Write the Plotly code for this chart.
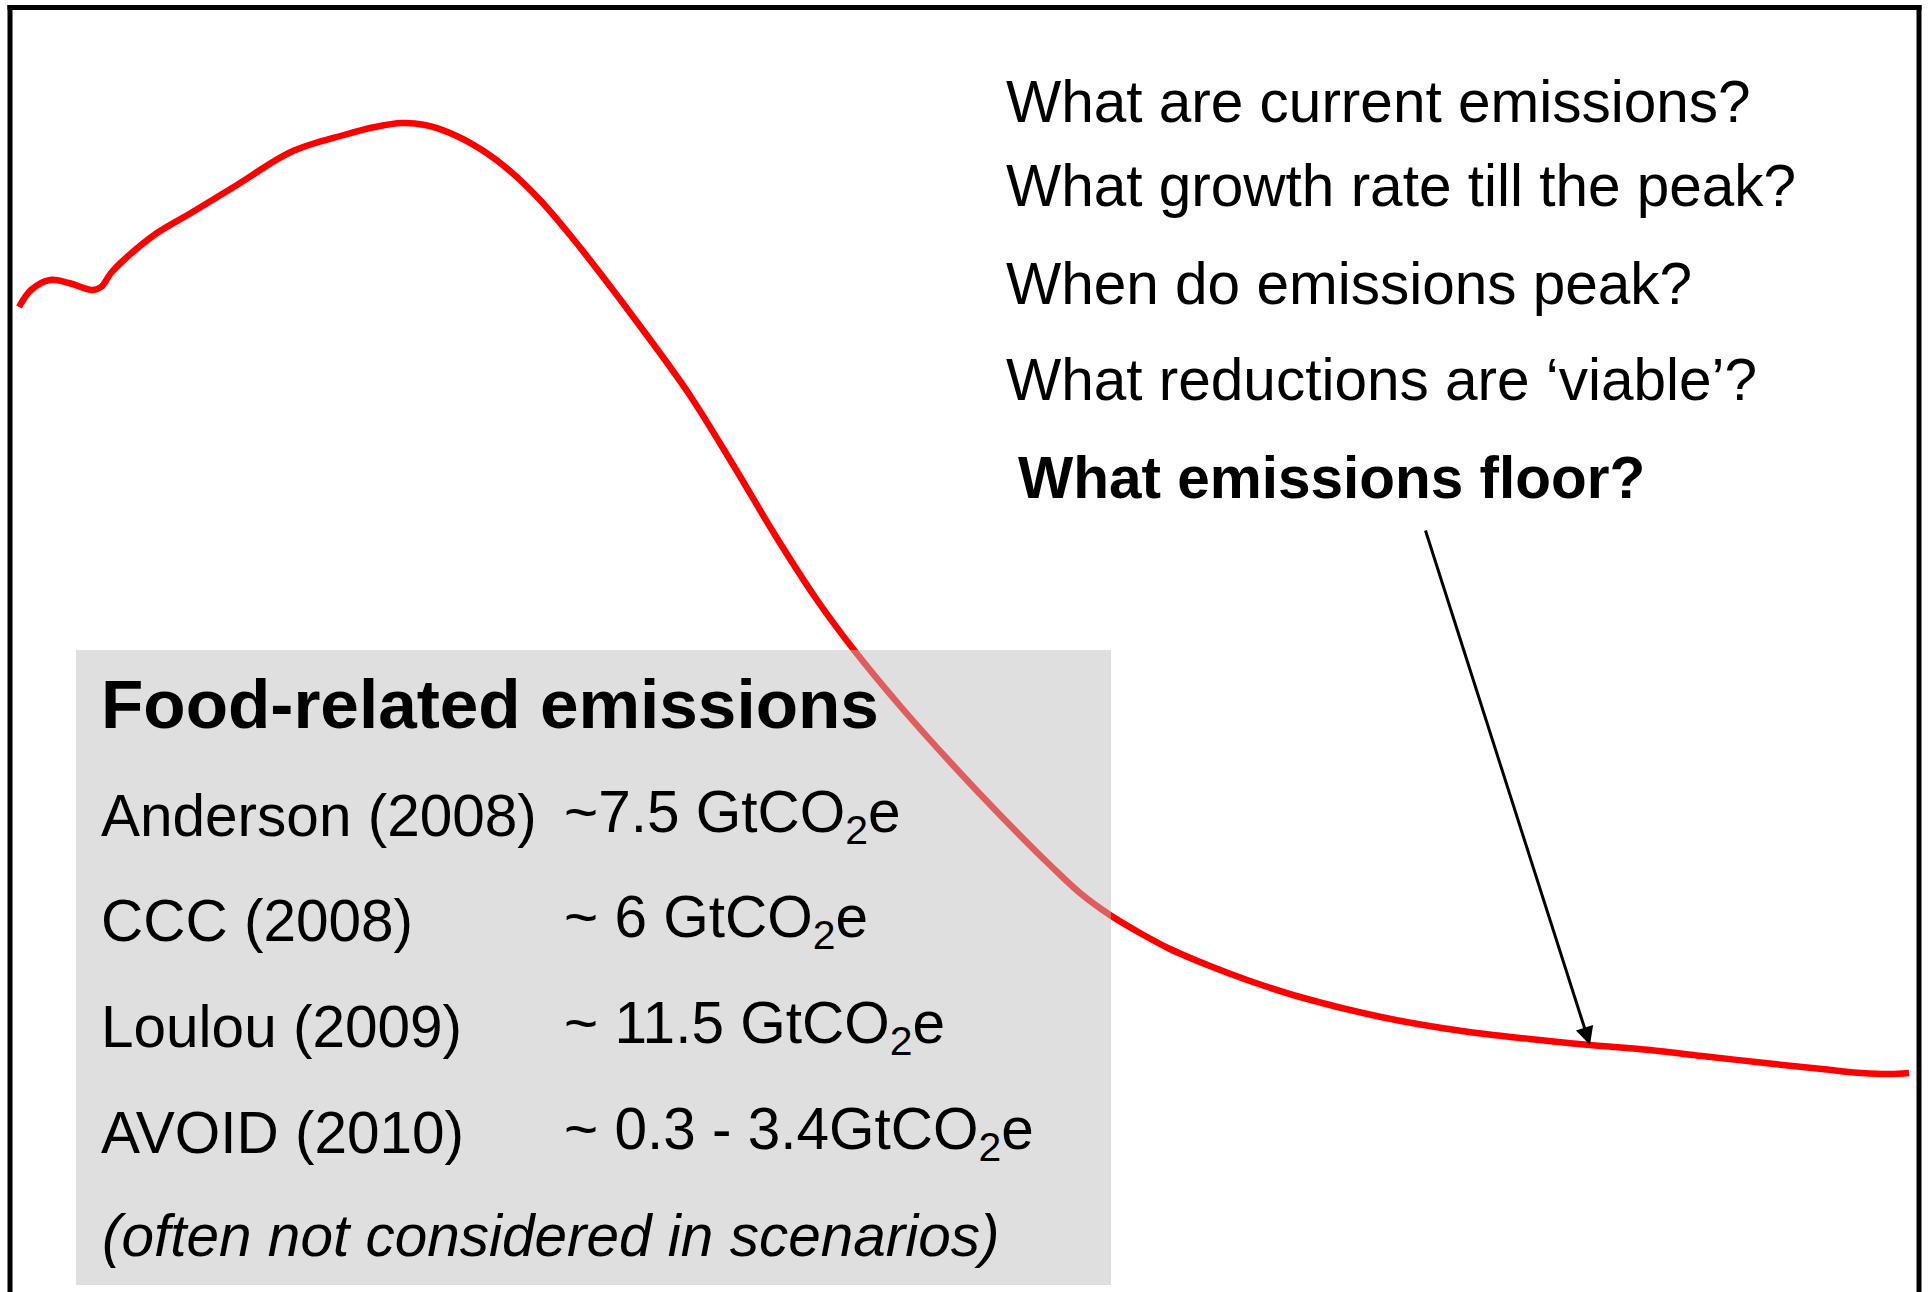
import plotly.graph_objects as go

# Emissions pathway sketch (canvas units, y grows downward)
path_x = [19, 31, 50, 69, 92, 101, 111, 126, 157, 191, 237, 291, 344, 375, 402, 425,
          450, 482, 510, 540, 570, 600, 640, 689, 735, 775, 817, 854, 901, 951, 1002,
          1052, 1080, 1110, 1140, 1170, 1210, 1250, 1300, 1381, 1462, 1530, 1590, 1650,
          1702, 1765, 1822, 1862, 1890, 1909]
path_y = [307, 290, 280, 283, 290, 287, 273, 258, 233, 213, 185, 152, 135, 127, 123, 125,
          133, 150, 171, 200, 235, 273, 326, 394, 468, 535, 600, 650, 707, 763, 817,
          867, 893, 915, 933, 949, 966, 981, 997, 1017, 1031, 1039, 1045, 1050,
          1056, 1063, 1069, 1073, 1074, 1073]

questions = [
    "What are current emissions?",
    "What growth rate till the peak?",
    "When do emissions peak?",
    "What reductions are \u2018viable\u2019?",
]
question_baselines = [123, 207, 305, 401]
floor_question = "What emissions floor?"
floor_baseline = 499

box_title = "Food-related emissions"
sources = ["Anderson (2008)", "CCC (2008)", "Loulou (2009)", "AVOID (2010)"]
estimates = ["~7.5 GtCO<sub>2</sub>e", "~ 6 GtCO<sub>2</sub>e",
             "~ 11.5 GtCO<sub>2</sub>e", "~ 0.3 - 3.4GtCO<sub>2</sub>e"]
source_baselines = [837, 942, 1048, 1154]
box_note = "<i>(often not considered in scenarios)</i>"

# arrow from the floor question down to the tail of the pathway
arrow_from = (1425, 529)
arrow_to = (1590, 1045)

W, H = 1929, 1292
FONT = "Liberation Sans, Arial, sans-serif"
Q_SIZE = 58.5
T_SIZE = 69.3

fig = go.Figure()
fig.add_trace(go.Scatter(
    x=path_x, y=path_y, mode="lines",
    line=dict(color="#ff0000", width=6.5, shape="spline", smoothing=1.0),
    hoverinfo="skip", showlegend=False,
))

shapes = [
    # semi-transparent grey panel over the curve
    dict(type="rect", xref="x", yref="y", x0=76, x1=1111, y0=650, y1=1285,
         fillcolor="rgba(190,190,190,0.49)", line=dict(width=0), layer="above"),
    # frame (top, left, right)
    dict(type="line", xref="x", yref="y", x0=7.5, x1=1921.5, y0=7.5, y1=7.5,
         line=dict(color="black", width=5)),
    dict(type="line", xref="x", yref="y", x0=10, x1=10, y0=5, y1=1300,
         line=dict(color="black", width=5)),
    dict(type="line", xref="x", yref="y", x0=1919, x1=1919, y0=5, y1=1300,
         line=dict(color="black", width=5)),
]

def baseline_to_mid(b, size):
    return b - 0.36 * size

def label(x, baseline, text, size):
    return dict(x=x, y=baseline_to_mid(baseline, size), xref="x", yref="y",
                text=text, showarrow=False, xanchor="left", yanchor="middle",
                font=dict(family=FONT, size=size, color="black"))

annotations = [label(1004, b, q, Q_SIZE) for q, b in zip(questions, question_baselines)]
annotations.append(label(1016, floor_baseline, "<b>" + floor_question + "</b>", Q_SIZE))

annotations.append(dict(x=arrow_to[0], y=arrow_to[1], ax=arrow_from[0], ay=arrow_from[1],
                        xref="x", yref="y", axref="x", ayref="y", text="",
                        showarrow=True, arrowhead=2, arrowsize=1.2, arrowwidth=3,
                        arrowcolor="black"))

annotations.append(label(99, 729, "<b>" + box_title + "</b>", T_SIZE))
for s, e, b in zip(sources, estimates, source_baselines):
    annotations.append(label(99, b, s, Q_SIZE))
    annotations.append(label(562, b, e, Q_SIZE))
annotations.append(label(100, 1257, box_note, Q_SIZE))

fig.update_layout(
    width=W, height=H,
    margin=dict(l=0, r=0, t=0, b=0),
    paper_bgcolor="white", plot_bgcolor="white",
    xaxis=dict(range=[0, W], visible=False, fixedrange=True),
    yaxis=dict(range=[H, 0], visible=False, fixedrange=True),
    shapes=shapes, annotations=annotations,
    showlegend=False,
)

fig.write_html("out.html", config={"displayModeBar": False})
